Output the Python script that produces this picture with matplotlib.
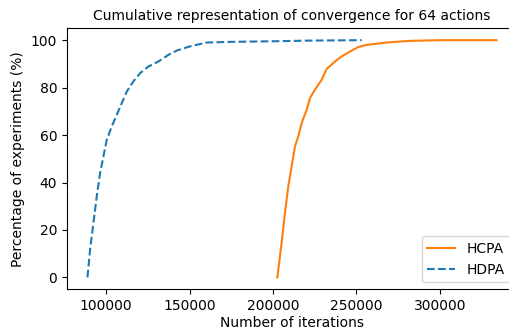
import matplotlib
matplotlib.use("Agg")
import matplotlib.pyplot as plt

# HCPA curve (iterations, cumulative %)
hcpa_iter = [202600, 205200, 207200, 209200, 211200, 213200, 215200, 217200,
             220200, 222200, 225100, 229200, 232100, 237100, 241100, 246100,
             251100, 256100, 268100, 282000, 300000, 334000]
hcpa_pct = [0, 14.7, 27.3, 38.5, 46.9, 55.3, 59.5, 65.1,
            70.7, 75.6, 79.1, 83.3, 87.8, 91.0, 93.1, 95.2,
            97.1, 98.0, 99.0, 99.7, 100, 100]

# HDPA curve
hdpa_iter = [88800, 90400, 92400, 94400, 96400, 98400, 100400, 103400,
             106400, 109400, 112400, 116300, 120400, 125300, 131300, 137300,
             142300, 150300, 160300, 176200, 206200, 220200, 253100]
hdpa_pct = [0, 11.9, 23.1, 34.3, 44.1, 51.1, 58.1, 63.7,
            68.6, 73.5, 78.4, 82.6, 86.1, 88.9, 91.0, 93.8,
            95.6, 97.4, 99.0, 99.3, 99.6, 99.8, 100]

fig = plt.figure(figsize=(5.1, 3.31), dpi=100)
ax = fig.add_axes([67 / 510, 41.7 / 331, 450 / 510, 261 / 331])

ax.plot(hcpa_iter, hcpa_pct, color="tab:orange", linestyle="-", label="HCPA")
ax.plot(hdpa_iter, hdpa_pct, color="tab:blue", linestyle="--", label="HDPA")

ax.set_title("Cumulative representation of convergence for 64 actions", fontsize=10)
ax.set_xlabel("Number of iterations", labelpad=2)
ax.set_ylabel("Percentage of experiments (%)")
ax.set_xticks([100000, 150000, 200000, 250000, 300000])
ax.legend(loc="lower right")

fig.savefig("out.png", dpi=100)
